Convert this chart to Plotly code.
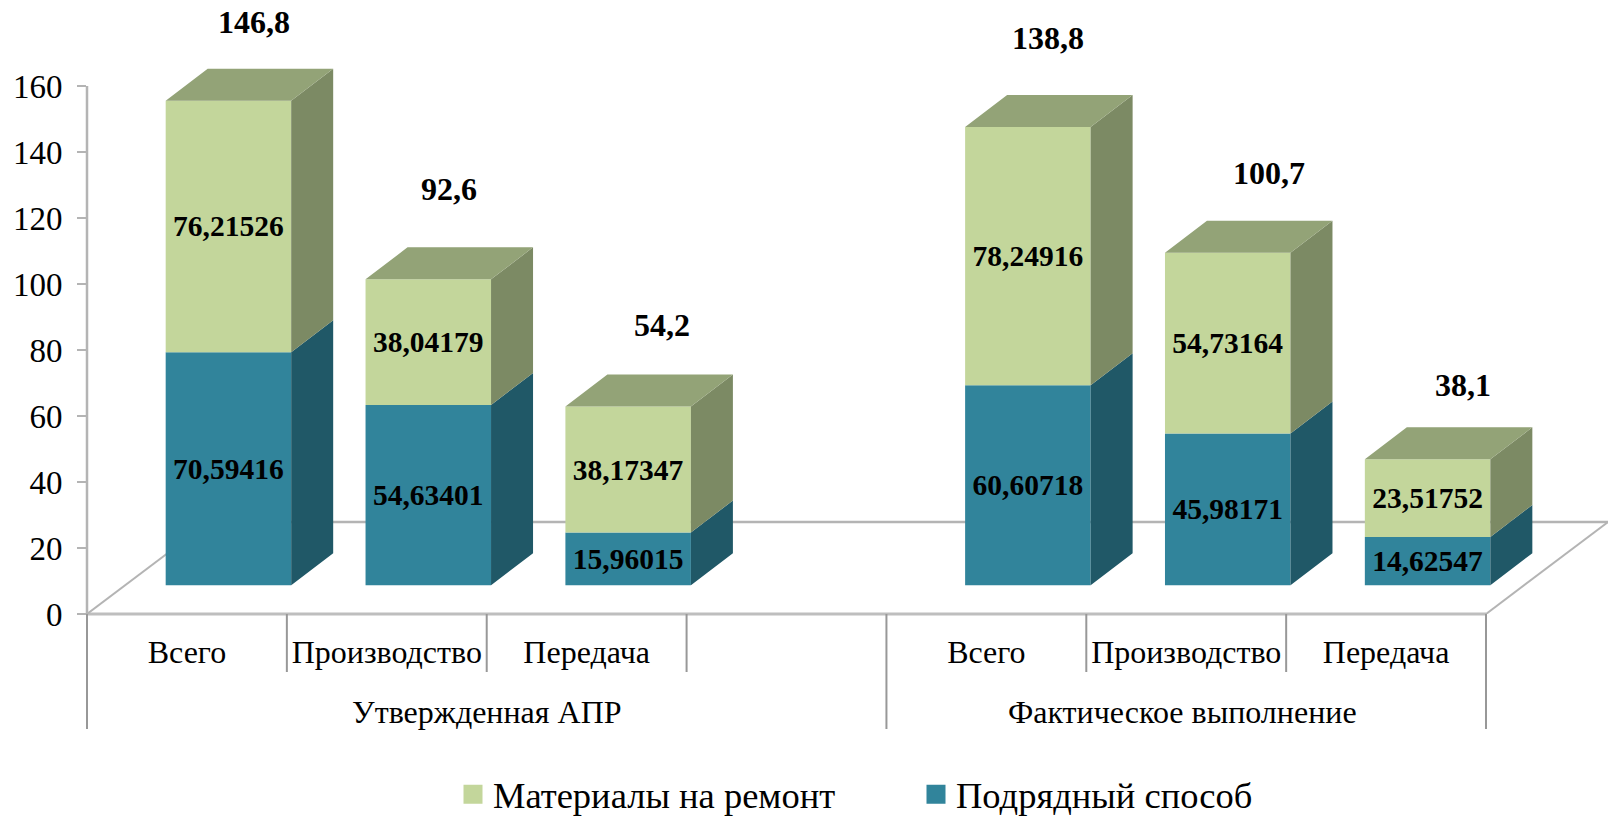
import plotly.graph_objects as go

# ---- data ----
CATEGORIES = ["Всего", "Производство", "Передача", "Всего", "Производство", "Передача"]
SLOTS = [0, 1, 2, 4, 5, 6]
GROUPS = ["Утвержденная АПР", "Фактическое выполнение"]
CONTRACT = [70.59416, 54.63401, 15.96015, 60.60718, 45.98171, 14.62547]
MATERIALS = [76.21526, 38.04179, 38.17347, 78.24916, 54.73164, 23.51752]
TOTALS = ["146,8", "92,6", "54,2", "138,8", "100,7", "38,1"]
SERIES_NAMES = ["Материалы на ремонт", "Подрядный способ"]
Y_TICKS = [0, 20, 40, 60, 80, 100, 120, 140, 160]

# ---- layout constants ----
W, H = 1608, 818
LEFT, ZERO_PX, TOP160_PX = 87, 614, 86
SLOT_PX = 199.86
PX_PER_UNIT = (ZERO_PX - TOP160_PX) / 160
XMAX = (W - LEFT) / SLOT_PX
YMAX = ZERO_PX / PX_PER_UNIT
FONT = "Liberation Serif"

BAR_W = 125.5 / SLOT_PX
BAR_SHIFT = 41.5 / SLOT_PX
BASE = 28.8 / PX_PER_UNIT
DX = 42 / SLOT_PX
DY = 32 / PX_PER_UNIT
FLOOR_DX = 122 / SLOT_PX
FLOOR_DY = 92 / PX_PER_UNIT

GREEN, GREEN_SIDE, GREEN_TOP = "#C3D69B", "#7C8A64", "#93A377"
TEAL, TEAL_SIDE = "#31849B", "#205867"
AXIS, DIVIDER = "#B4B4B4", "#989898"

# hand placement of the total labels relative to the top of each bar (px)
TOTAL_DX = [26, 21, 34, 20, 41, 35]
TOTAL_DY = [79, 90, 82, 89, 80, 74]

xc = [s + 0.5 + BAR_SHIFT for s in SLOTS]
base_teal = [BASE] * len(CONTRACT)
base_green = [BASE + c for c in CONTRACT]
tops = [BASE + c + m for c, m in zip(CONTRACT, MATERIALS)]


def side_poly(bases, values):
    xs, ys = [], []
    for x, b, v in zip(xc, bases, values):
        r = x + BAR_W / 2
        xs += [r, r + DX, r + DX, r, r, None]
        ys += [b, b + DY, b + v + DY, b + v, b, None]
    return xs, ys


def top_poly():
    xs, ys = [], []
    for x, t in zip(xc, tops):
        l, r = x - BAR_W / 2, x + BAR_W / 2
        xs += [l, r, r + DX, l + DX, l, None]
        ys += [t, t, t + DY, t + DY, t, None]
    return xs, ys


fig = go.Figure()


def add_poly(xy, color):
    fig.add_trace(go.Scatter(x=xy[0], y=xy[1], mode="lines", fill="toself", fillcolor=color,
                             line=dict(width=0, color=color), hoverinfo="skip", showlegend=False))


add_poly(side_poly(base_teal, CONTRACT), TEAL_SIDE)
add_poly(side_poly(base_green, MATERIALS), GREEN_SIDE)
add_poly(top_poly(), GREEN_TOP)

lab_font = dict(family=FONT, size=29.5, color="black", weight="bold")
fig.add_trace(go.Bar(x=xc, y=CONTRACT, base=base_teal, width=BAR_W, marker=dict(color=TEAL, line_width=0),
                     text=[f"{v:.5f}".replace(".", ",") for v in CONTRACT], textposition="inside",
                     insidetextanchor="middle", textangle=0, constraintext="none",
                     insidetextfont=lab_font, showlegend=False, name=SERIES_NAMES[1]))
fig.add_trace(go.Bar(x=xc, y=MATERIALS, base=base_green, width=BAR_W, marker=dict(color=GREEN, line_width=0),
                     text=[f"{v:.5f}".replace(".", ",") for v in MATERIALS], textposition="inside",
                     insidetextanchor="middle", textangle=0, constraintext="none",
                     insidetextfont=lab_font, showlegend=False, name=SERIES_NAMES[0]))

# legend entries
for name, color in zip(SERIES_NAMES, [GREEN, TEAL]):
    fig.add_trace(go.Scatter(x=[None], y=[None], mode="markers", name=name,
                             marker=dict(symbol="square", size=16, color=color,
                                         line=dict(width=3, color=color))))

shapes = []


def line(x0, y0, x1, y1, color, width, xref="x", yref="y"):
    shapes.append(dict(type="line", x0=x0, y0=y0, x1=x1, y1=y1, xref=xref, yref=yref,
                       line=dict(color=color, width=width), layer="below"))


PH = ZERO_PX  # plot height in px
PW = W - LEFT
# floor
line(0, 0, FLOOR_DX, FLOOR_DY, AXIS, 2)
line(FLOOR_DX, FLOOR_DY, XMAX, FLOOR_DY, AXIS, 2.5)
line(7, 0, 7 + FLOOR_DX, FLOOR_DY, AXIS, 2)
# axes
line(0, 0, 0, 160 / YMAX, AXIS, 2.5, "paper", "paper")
line(0, 0, 7 / XMAX, 0, "#BEBEBE", 3, "paper", "paper")
# dividers under the axis
for s in [1, 2, 3, 5, 6]:
    line(s / XMAX, 0, s / XMAX, -58 / PH, DIVIDER, 2, "paper", "paper")
for s in [0, 4, 7]:
    line(s / XMAX, 0, s / XMAX, -115 / PH, DIVIDER, 2, "paper", "paper")

annotations = []
for x, t, txt, dx, dy in zip(xc, tops, TOTALS, TOTAL_DX, TOTAL_DY):
    annotations.append(dict(x=x, y=t, xref="x", yref="y", text=f"<b>{txt}</b>", showarrow=False,
                            xshift=dx, yshift=dy, font=dict(family=FONT, size=32, color="black")))
for g, c in zip(GROUPS, [2, 5.48]):
    annotations.append(dict(x=c, y=-117.5 / PH, xref="x", yref="paper", text=g, showarrow=False,
                            font=dict(family=FONT, size=32, color="black")))

fig.update_layout(
    width=W, height=H, margin=dict(l=LEFT, r=0, t=0, b=H - ZERO_PX, pad=0, autoexpand=False),
    paper_bgcolor="white", plot_bgcolor="white", barmode="overlay",
    shapes=shapes, annotations=annotations,
    font=dict(family=FONT, color="black"),
    legend=dict(orientation="h", x=(453 - LEFT) / PW, xanchor="left", y=-150 / PH, yanchor="top",
                entrywidth=418, entrywidthmode="pixels", bgcolor="rgba(0,0,0,0)",
                font=dict(family=FONT, size=36.5, color="black"), itemclick=False, itemdoubleclick=False),
    xaxis=dict(range=[0, XMAX], showgrid=False, zeroline=False, showline=False,
               tickmode="array", tickvals=[s + 0.5 for s in SLOTS], ticktext=CATEGORIES,
               ticks="outside", ticklen=10, tickcolor="rgba(0,0,0,0)",
               tickfont=dict(family=FONT, size=32, color="black")),
    yaxis=dict(range=[0, YMAX], showgrid=False, zeroline=False, showline=False,
               tickmode="array", tickvals=Y_TICKS, ticks="outside", ticklen=9, tickwidth=2,
               tickcolor=AXIS, ticklabelstandoff=8,
               tickfont=dict(family=FONT, size=33, color="black")),
)

fig.write_html("out.html", config=dict(displayModeBar=False),
               post_script="document.body.style.margin='0';document.documentElement.style.overflow='hidden';")
